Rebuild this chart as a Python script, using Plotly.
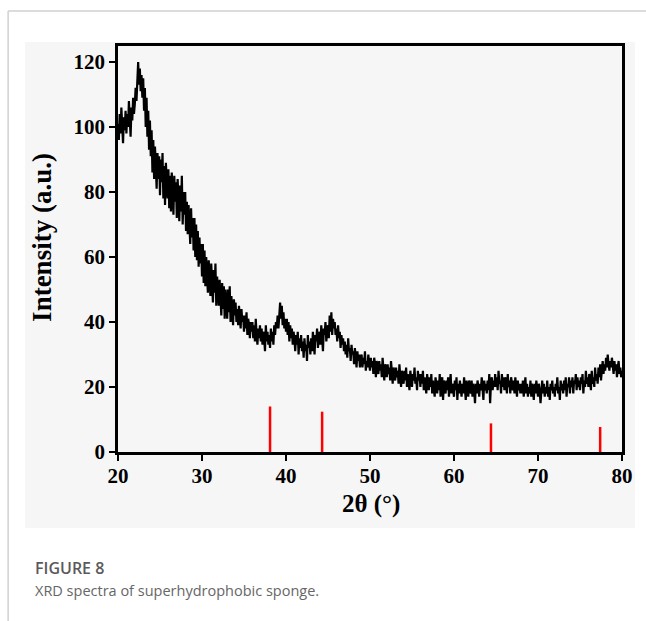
import plotly.graph_objects as go

# 2-theta grid (degrees), step 0.1 from 20 to 80
two_theta_start = 20.0
two_theta_step = 0.1

# intensity, one row per degree (x.0 ... x.9)
intensity = [
    101, 96, 104, 98, 106, 100, 95, 103, 99, 105,   # 20
    98, 104, 100, 108, 101, 97, 106, 102, 109, 104,  # 21
    107, 112, 108, 115, 120, 113, 118, 111, 116, 109,  # 22
    115, 105, 112, 100, 109, 97, 105, 93, 102, 91,   # 23
    99, 86, 96, 84, 94, 88, 81, 92, 84, 91,          # 24
    79, 90, 83, 92, 78, 88, 76, 89, 82, 78,          # 25
    87, 75, 85, 74, 86, 79, 73, 85, 77, 83,          # 26
    72, 84, 77, 71, 82, 74, 85, 70, 80, 73,          # 27
    80, 68, 77, 67, 76, 70, 64, 75, 66, 72,          # 28
    62, 72, 60, 70, 59, 68, 57, 66, 58, 64,          # 29
    54, 64, 52, 62, 51, 60, 55, 49, 59, 53,          # 30
    48, 58, 51, 46, 56, 49, 58, 45, 54, 48,          # 31
    45, 53, 47, 42, 52, 44, 51, 41, 50, 45,          # 32
    41, 50, 43, 51, 40, 48, 44, 39, 47, 42,          # 33
    46, 40, 44, 39, 45, 41, 38, 44, 40, 42,          # 34
    37, 42, 38, 43, 36, 41, 39, 35, 40, 37,          # 35
    40, 35, 39, 34, 41, 36, 33, 38, 35, 39,          # 36
    34, 38, 33, 37, 35, 31, 39, 34, 37, 33,          # 37
    36, 32, 38, 34, 37, 33, 39, 36, 40, 38,          # 38
    42, 38, 44, 46, 41, 45, 39, 43, 38, 41,          # 39
    37, 41, 36, 40, 34, 39, 35, 38, 33, 37,          # 40
    35, 31, 36, 33, 37, 30, 35, 32, 36, 31,          # 41
    34, 29, 35, 31, 33, 28, 36, 32, 34, 30,          # 42
    35, 31, 37, 33, 30, 36, 34, 38, 32, 35,          # 43
    37, 33, 39, 35, 31, 38, 36, 40, 34, 37,          # 44
    39, 35, 42, 37, 43, 36, 41, 38, 40, 36,          # 45
    38, 34, 39, 35, 37, 32, 36, 33, 35, 31,          # 46
    34, 30, 33, 29, 35, 31, 32, 28, 33, 30,          # 47
    31, 27, 32, 29, 26, 31, 28, 30, 26, 29,          # 48
    30, 26, 29, 27, 31, 25, 28, 26, 30, 27,          # 49
    25, 29, 26, 28, 24, 29, 27, 23, 28, 26,          # 50
    24, 28, 25, 27, 23, 29, 25, 22, 27, 26,          # 51
    23, 27, 24, 26, 22, 28, 25, 21, 26, 24,          # 52
    22, 26, 23, 25, 21, 27, 24, 20, 25, 23,          # 53
    21, 25, 22, 26, 20, 24, 22, 19, 25, 23,          # 54
    20, 24, 22, 26, 21, 23, 19, 25, 22, 24,          # 55
    20, 24, 21, 25, 19, 23, 21, 18, 24, 22,          # 56
    19, 23, 20, 24, 18, 22, 20, 17, 23, 21,          # 57
    18, 22, 19, 24, 17, 21, 23, 16, 22, 20,          # 58
    18, 22, 19, 23, 17, 21, 24, 18, 21, 19,          # 59
    17, 22, 19, 23, 16, 21, 18, 22, 20, 17,          # 60
    21, 18, 23, 19, 16, 22, 20, 17, 22, 19,          # 61
    18, 22, 17, 21, 19, 15, 21, 18, 22, 20,          # 62
    17, 21, 19, 23, 18, 16, 22, 19, 21, 18,          # 63
    22, 19, 24, 15, 21, 23, 19, 22, 20, 24,          # 64
    20, 23, 19, 25, 21, 22, 18, 24, 20, 23,          # 65
    19, 23, 21, 18, 24, 20, 22, 18, 23, 21,          # 66
    19, 22, 18, 23, 20, 17, 22, 19, 21, 18,          # 67
    21, 18, 22, 17, 20, 23, 18, 21, 17, 20,          # 68
    18, 22, 17, 21, 19, 16, 21, 18, 22, 19,          # 69
    17, 21, 19, 15, 20, 22, 18, 21, 17, 20,          # 70
    18, 22, 17, 20, 16, 21, 19, 22, 18, 20,          # 71
    17, 21, 19, 23, 18, 20, 16, 22, 19, 21,          # 72
    18, 22, 19, 23, 17, 21, 20, 23, 18, 22,          # 73
    20, 23, 18, 22, 21, 24, 19, 23, 20, 22,          # 74
    19, 23, 21, 24, 18, 22, 20, 25, 21, 23,          # 75
    20, 24, 22, 19, 25, 21, 23, 20, 26, 22,          # 76
    24, 21, 26, 23, 27, 22, 25, 28, 24, 27,          # 77
    25, 29, 26, 30, 27, 25, 28, 26, 29, 27,          # 78
    24, 28, 25, 27, 23, 26, 28, 24, 26, 23,          # 79
    25,                                              # 80
]

# reference (standard) peak positions and heights
ref_positions = [38.1, 44.3, 64.4, 77.4]
ref_heights = [14.0, 12.4, 8.8, 7.7]

x_ticks = [20, 30, 40, 50, 60, 70, 80]
y_ticks = [0, 20, 40, 60, 80, 100, 120]

two_theta = [round(two_theta_start + i * two_theta_step, 2) for i in range(len(intensity))]

stick_x, stick_y = [], []
for p, h in zip(ref_positions, ref_heights):
    stick_x += [p, p, None]
    stick_y += [0, h, None]

fig = go.Figure()
fig.add_trace(go.Scatter(x=two_theta, y=intensity, mode="lines",
                         line=dict(color="black", width=2.2), showlegend=False))
fig.add_trace(go.Scatter(x=stick_x, y=stick_y, mode="lines",
                         line=dict(color="#ff0000", width=2.5), showlegend=False))

tick_font = dict(family="Liberation Serif", size=21, color="black")
axis_common = dict(showline=True, linecolor="black", linewidth=2.5, mirror=True,
                   ticks="outside", ticklen=6, tickwidth=2, tickcolor="black",
                   showgrid=False, zeroline=False, tickfont=tick_font)

fig.update_layout(
    width=646, height=621,
    margin=dict(l=118, r=24, t=46, b=169),
    paper_bgcolor="white",
    plot_bgcolor="#fafafa",
    xaxis=dict(range=[20, 80], tickvals=x_ticks, ticktext=[f"<b>{v}</b>" for v in x_ticks],
               ticklabelstandoff=-3, **axis_common),
    yaxis=dict(range=[0, 124.9], tickvals=y_ticks, ticktext=[f"<b>{v}</b>" for v in y_ticks],
               **axis_common),
    shapes=[
        dict(type="rect", xref="paper", yref="paper", x0=-0.1845, x1=1.0258, y0=-0.187, y1=1.0099,
             fillcolor="#f6f6f6", line=dict(width=0), layer="below"),
        dict(type="line", xref="paper", yref="paper", x0=-0.218, x1=1.05, y0=1.0862, y1=1.0862,
             line=dict(color="#d0d0d0", width=1.5)),
        dict(type="line", xref="paper", yref="paper", x0=-0.218, x1=-0.218, y0=1.0862, y1=-0.42,
             line=dict(color="#d0d0d0", width=1.5)),
    ],
    annotations=[
        dict(text="<b>2θ (°)</b>", xref="paper", yref="paper", x=0.502, y=-0.127,
             xanchor="center", yanchor="middle", showarrow=False,
             font=dict(family="Liberation Serif", size=25, color="black")),
        dict(text="<b>Intensity (a.u.)</b>", xref="paper", yref="paper", x=-0.151, y=0.5296,
             xanchor="center", yanchor="middle", showarrow=False, textangle=-90,
             font=dict(family="Liberation Serif", size=27, color="black")),
        dict(text="FIGURE 8", xref="paper", yref="paper", x=-0.1687, y=-0.285, xanchor="left",
             yanchor="middle", showarrow=False,
             font=dict(family="Open Sans", size=16, color="#5a5a5a", weight=600)),
        dict(text="XRD spectra of superhydrophobic sponge.", xref="paper", yref="paper",
             x=-0.1687, y=-0.340, xanchor="left", yanchor="middle", showarrow=False,
             font=dict(family="Open Sans", size=14.5, color="#666666")),
    ],
)

fig.write_html("out.html")
